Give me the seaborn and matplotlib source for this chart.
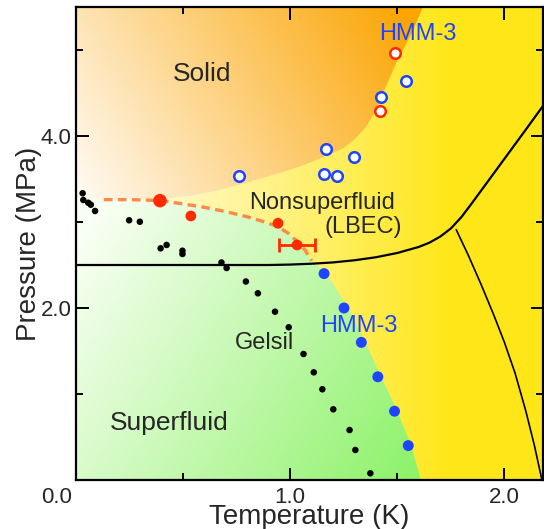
import numpy as np
import seaborn as sns
import matplotlib.pyplot as plt
from matplotlib.patches import Polygon

# Gelsil superfluid onset (small black dots)
gelsil_T = [0.031, 0.034, 0.057, 0.069, 0.089, 0.248, 0.298, 0.395, 0.423, 0.497, 0.497, 0.679,
            0.703, 0.793, 0.849, 0.929, 0.993, 1.062, 1.110, 1.150, 1.201, 1.277, 1.304, 1.374]
gelsil_P = [3.334, 3.256, 3.224, 3.201, 3.128, 3.020, 3.003, 2.694, 2.733, 2.666, 2.628, 2.529,
            2.465, 2.308, 2.171, 1.957, 1.776, 1.465, 1.252, 1.055, 0.822, 0.581, 0.349, 0.078]

# nonsuperfluid onset (red filled)
onset_T = [0.392, 0.536, 0.943, 1.032]
onset_P = [3.248, 3.07, 2.985, 2.733]
onset_size = [90, 60, 60, 60]
err_T, err_P, err_dT = 1.032, 2.733, 0.086

# HMM-3 superfluid onset (blue filled)
hmm_T = [1.158, 1.251, 1.332, 1.409, 1.487, 1.551]
hmm_P = [2.4, 2.0, 1.6, 1.2, 0.8, 0.4]

# HMM-3 freezing (open circles)
open_blue_T = [0.76, 1.156, 1.22, 1.166, 1.298, 1.422, 1.542]
open_blue_P = [3.535, 3.56, 3.535, 3.85, 3.756, 4.45, 4.64]
open_red_T = [1.417, 1.487]
open_red_P = [4.29, 4.97]

# dashed onset guide
dash_T = [0.13, 0.25, 0.39, 0.50, 0.60, 0.70, 0.80, 0.88, 0.94, 0.99, 1.03, 1.07, 1.10]
dash_P = [3.26, 3.26, 3.25, 3.21, 3.17, 3.12, 3.06, 3.00, 2.95, 2.87, 2.78, 2.67, 2.55]

# region boundaries
solid_T = [0.0, 0.20, 0.40, 0.52, 0.65, 0.80, 0.95, 1.05, 1.15, 1.25, 1.30, 1.355, 1.40,
           1.433, 1.465, 1.495, 1.535, 1.573, 1.62]
solid_P = [3.27, 3.26, 3.27, 3.30, 3.36, 3.46, 3.57, 3.65, 3.75, 3.86, 3.96, 4.11, 4.30,
           4.50, 4.68, 4.85, 5.04, 5.23, 5.5]
green_T = [1.10, 1.17, 1.27, 1.35, 1.425, 1.50, 1.565, 1.61]
green_P = [2.55, 2.40, 2.00, 1.60, 1.20, 0.80, 0.40, 0.0]

# bulk lines
melt_T = [0.0, 0.5, 0.9, 1.0, 1.1, 1.2, 1.3, 1.4, 1.5, 1.6, 1.65, 1.7, 1.75, 1.8, 1.85,
          1.9, 2.0, 2.1, 2.18]
melt_P = [2.50, 2.50, 2.50, 2.505, 2.515, 2.53, 2.555, 2.59, 2.64, 2.71, 2.76, 2.83, 2.925,
          3.06, 3.225, 3.395, 3.735, 4.075, 4.35]
lam_T = [1.775, 1.83, 1.89, 1.95, 2.00, 2.05, 2.10, 2.14, 2.175]
lam_P = [2.91, 2.62, 2.28, 1.92, 1.60, 1.24, 0.80, 0.40, 0.0]

T_MAX, P_MAX = 2.18, 5.5
BLUE = "#1e44ff"
RED = "#ff2a00"


def shade(s, c0, c1):
    s = np.clip(s, 0, 1)[..., None]
    return np.array(c0) * (1 - s) + np.array(c1) * s


sns.set_theme(style="ticks")
plt.rcParams["font.family"] = ["Liberation Sans", "DejaVu Sans"]

fig = plt.figure(figsize=(5.44, 5.29), dpi=100)
ax = fig.add_axes([76 / 544, 49 / 529, 467 / 544, 473 / 529])

TT, PP = np.meshgrid(np.linspace(0, T_MAX, 300), np.linspace(0, P_MAX, 300))
ext = (0, T_MAX, 0, P_MAX)

# yellow background (nonsuperfluid)
yel = shade((TT - 0.15) / 1.6, (1.0, 0.995, 0.92), (1.0, 0.905, 0.10))
ax.imshow(yel, extent=ext, origin="lower", aspect="auto", zorder=0)

# solid region
solid_poly = Polygon(list(zip(solid_T, solid_P)) + [(0, P_MAX)], closed=True, transform=ax.transData)
org = shade(0.75 * TT / 1.55 + 0.27 * (PP - 3.25) / 2.25, (1.0, 0.985, 0.965), (0.985, 0.65, 0.02))
im = ax.imshow(org, extent=ext, origin="lower", aspect="auto", zorder=0)
im.set_clip_path(solid_poly)

# superfluid region
gpts = [(0, 0), (0, 3.27)] + list(zip(dash_T, dash_P)) + list(zip(green_T, green_P))
green_poly = Polygon(gpts, closed=True, transform=ax.transData)
grn = shade(0.7 * TT / 1.55 + 0.3 * (2.7 - PP) / 2.7, (0.975, 1.0, 0.955), (0.56, 0.95, 0.42))
im = ax.imshow(grn, extent=ext, origin="lower", aspect="auto", zorder=0)
im.set_clip_path(green_poly)

# lines
sns.lineplot(x=melt_T, y=melt_P, sort=False, color="black", lw=1.6, ax=ax, zorder=2)
sns.lineplot(x=lam_T, y=lam_P, sort=False, color="black", lw=1.2, ax=ax, zorder=2)
sns.lineplot(x=dash_T, y=dash_P, sort=False, color="#ff8a45", lw=2.4, ax=ax, zorder=2)
ax.lines[-1].set_dashes((2.6, 1.6))

# points
sns.scatterplot(x=gelsil_T, y=gelsil_P, color="black", s=22, edgecolor="none", ax=ax, zorder=3)
sns.scatterplot(x=hmm_T, y=hmm_P, color=BLUE, s=62, edgecolor="none", ax=ax, zorder=3)
ax.errorbar(err_T, err_P, xerr=err_dT, color=RED, lw=2, capsize=5, capthick=2, zorder=3)
sns.scatterplot(x=onset_T, y=onset_P, size=onset_size, sizes=(60, 95), color=RED,
                edgecolor="none", legend=False, ax=ax, zorder=4)
sns.scatterplot(x=open_blue_T, y=open_blue_P, color="white", edgecolor=BLUE, linewidth=1.8,
                s=58, ax=ax, zorder=4)
sns.scatterplot(x=open_red_T, y=open_red_P, color="white", edgecolor=RED, linewidth=1.8,
                s=58, ax=ax, zorder=4)

# labels
ax.text(0.587, 4.72, "Solid", fontsize=19, ha="center", va="center")
ax.text(0.433, 0.66, "Superfluid", fontsize=19, ha="center", va="center")
ax.text(1.149, 3.22, "Nonsuperfluid", fontsize=17, ha="center", va="center")
ax.text(1.343, 2.94, "(LBEC)", fontsize=17, ha="center", va="center")
ax.text(0.881, 1.59, "Gelsil", fontsize=17, ha="center", va="center")
ax.text(1.322, 1.79, "HMM-3", fontsize=17, ha="center", va="center", color=BLUE)
ax.text(1.596, 5.19, "HMM-3", fontsize=17, ha="center", va="center", color=BLUE)

ax.set_xlim(0, T_MAX)
ax.set_ylim(0, P_MAX)
ax.set_xticks([0, 1, 2])
ax.set_xticklabels(["", "1.0", "2.0"])
ax.set_xticks([0.5, 1.5], minor=True)
ax.set_yticks([0, 2, 4])
ax.set_yticklabels(["", "2.0", "4.0"])
ax.set_yticks([1, 3, 5], minor=True)
ax.annotate("0.0", xy=(0, 0), xytext=(-3, -5), textcoords="offset points",
            ha="right", va="top", fontsize=16)
ax.tick_params(which="both", direction="in", top=True, right=True, width=1.4,
               labelsize=16, color="black")
ax.tick_params(which="major", length=9, pad=5)
ax.tick_params(which="minor", length=5)
ax.tick_params(axis="y", pad=3)
for sp in ax.spines.values():
    sp.set_linewidth(1.6)
    sp.set_color("black")

ax.set_xlabel("Temperature (K)", fontsize=20, labelpad=-3)
ax.set_ylabel("Pressure (MPa)", fontsize=20, labelpad=-1)

fig.savefig("out.png", dpi=100)
